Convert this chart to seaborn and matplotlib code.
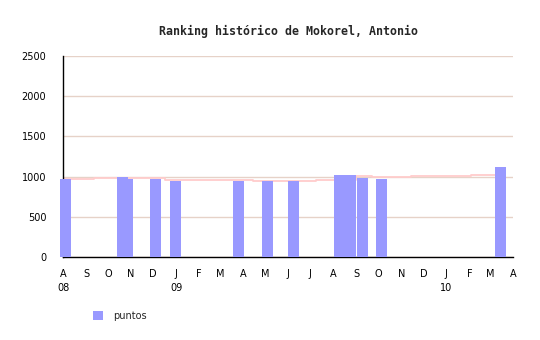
import numpy as np
import pandas as pd
import matplotlib
matplotlib.use("Agg")
import matplotlib.pyplot as plt
from matplotlib.patches import Patch
import seaborn as sns

# ---- data ----
origin = "2008-08-01"
bar_dates = ["2008-08-05", "2008-10-20", "2008-10-27", "2008-12-04", "2008-12-31",
             "2009-03-26", "2009-05-04", "2009-06-08", "2009-08-10", "2009-08-24",
             "2009-09-10", "2009-10-05", "2010-03-15"]
bar_values = [975, 991, 975, 975, 950, 950, 950, 950, 1013, 1025, 987, 975, 1125]

step_dates = ["2008-08-01", "2008-09-12", "2008-10-28", "2008-12-17", "2009-04-15",
              "2009-07-09", "2009-09-01", "2009-09-23", "2009-11-14", "2010-02-03"]
step_values = [971, 987, 978, 960, 946, 962, 1009, 995, 1010, 1025]
step_end = "2010-03-08"

tick_dates = pd.date_range("2008-08-01", "2010-04-01", freq="MS")
month_labels = ["A", "S", "O", "N", "D", "J", "F", "M", "A", "M", "J", "J",
                "A", "S", "O", "N", "D", "J", "F", "M", "A"]
year_labels = {0: "08", 5: "09", 17: "10"}

title = "Ranking histórico de Mokorel, Antonio"
legend_label = "puntos"

# ---- helpers ----
t0 = pd.Timestamp(origin)
def to_days(dates):
    return np.array([(pd.Timestamp(d) - t0).days for d in dates], dtype=float)

bar_x = to_days(bar_dates)
step_x = np.append(to_days(step_dates), to_days([step_end]))
step_y = np.append(step_values, step_values[-1])
tick_x = to_days(tick_dates)
xmax = tick_x[-1]

# ---- figure ----
sns.set_style("white")
plt.rcParams["font.family"] = ["DejaVu Sans"]

W, H = 540, 340
fig = plt.figure(figsize=(W / 100, H / 100), dpi=100)
ax = fig.add_axes([63 / W, 1 - 256.7 / H, (513 - 63) / W, (256.7 - 56.3) / H])

bar_color = "#9999ff"
px_per_day = (513 - 63) / xmax
bar_days = 11 / px_per_day
min_gap = np.diff(np.sort(bar_x)).min()

sns.lineplot(x=step_x, y=step_y, drawstyle="steps-post", color="#ffcccc",
             linewidth=1.3, ax=ax, zorder=2, estimator=None, sort=False)
sns.barplot(x=bar_x, y=bar_values, native_scale=True, width=bar_days / min_gap,
            color=bar_color, saturation=1, linewidth=0, errorbar=None,
            ax=ax, zorder=3, clip_on=False)

ax.set_xlim(0, xmax)
ax.set_ylim(0, 2500)
ax.set_yticks([0, 500, 1000, 1500, 2000, 2500])
ax.yaxis.grid(True, color="#e6d2c8", linewidth=1)
ax.xaxis.grid(False)
ax.set_axisbelow(True)

labels = []
for i, m in enumerate(month_labels):
    labels.append(m + ("\n" + year_labels[i] if i in year_labels else ""))
ax.set_xticks(tick_x)
ax.set_xticklabels(labels, linespacing=1.45)

ax.tick_params(axis="both", which="major", direction="out", length=6,
               width=1, color="black", labelsize=7, labelcolor="black")
ax.tick_params(axis="y", pad=6)
ax.tick_params(axis="x", pad=3)
for s in ["top", "right"]:
    ax.spines[s].set_visible(False)
for s in ["left", "bottom"]:
    ax.spines[s].set_color("black")
    ax.spines[s].set_linewidth(1)
ax.set_xlabel("")
ax.set_ylabel("")

fig.text(288.5 / W, 1 - 31 / H, title, ha="center", va="center",
         fontsize=8.4, fontweight="bold", family="DejaVu Sans Mono")

fig.legend(handles=[Patch(facecolor=bar_color, edgecolor="none", label=legend_label)],
           loc="center left", bbox_to_anchor=(93 / W, 1 - 316 / H), frameon=False,
           fontsize=7, handlelength=1.05, handleheight=1.05, handletextpad=1.0,
           borderpad=0, borderaxespad=0)

fig.savefig("out.png", dpi=100)
